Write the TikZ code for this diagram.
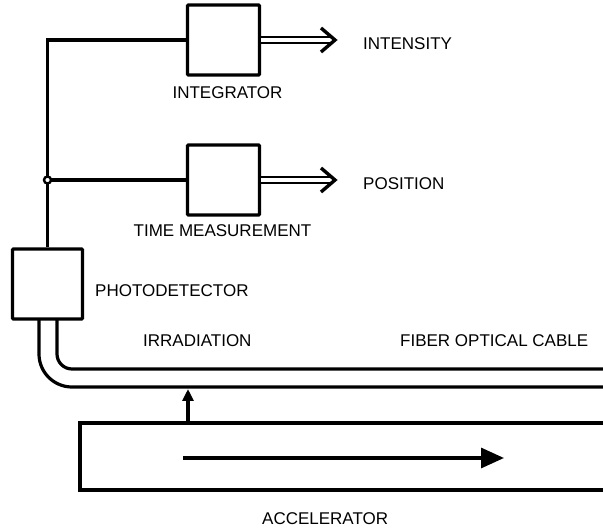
\documentclass[tikz,border=0pt]{standalone}
\usepackage{fontspec}
\setmainfont{Liberation Sans}
\usetikzlibrary{arrows.meta,calc}

\tikzset{
  wire/.style={line width=3.2pt},
  unit/.style={draw, line width=3.2pt, minimum width=72pt, minimum height=70pt,
               inner sep=0pt, rounded corners=1pt},
  label/.style={inner sep=0pt, font=\fontsize{17}{20}\selectfont},
  dblout/.style={draw, line width=2.4pt, double, double distance=3.2pt},
  chevron/.style={line width=3.4pt, line join=miter},
  joint/.style={circle, draw, fill=white, line width=2.4pt, minimum size=7pt, inner sep=0pt},
}

\begin{document}
\begin{tikzpicture}[x=1pt,y=-1pt]
  \useasboundingbox (0,0) rectangle (603,529);

  % signal processing units
  \node[unit] (int) at (223.5,40) {};
  \node[unit] (tm)  at (223.5,180) {};
  \node[unit, minimum width=70pt] (pd) at (47.5,284) {};

  \coordinate (corner) at (47.5,40);
  \coordinate (jn)     at (47.5,180);

  % photodetector output bus
  \draw[wire] (pd.north) -- (jn);
  \draw[wire] (jn) -- (corner) -- (int.west);
  \draw[wire] (jn) -- (tm.west);
  \node[joint] at (jn) {};

  % outputs
  \coordinate (intout) at (333,40);
  \coordinate (tmout)  at (333,180);
  \draw[dblout] (int.east) -- (intout);
  \draw[dblout] (tm.east) -- (tmout);
  \draw[chevron] ($(intout)+(-12,-12)$) -- ($(intout)+(2,0)$) -- ($(intout)+(-12,12)$);
  \draw[chevron] ($(tmout)+(-12,-12)$) -- ($(tmout)+(2,0)$) -- ($(tmout)+(-12,12)$);

  % fiber optical cable
  \coordinate (fo) at (39,319);
  \coordinate (fi) at (57,319);
  \coordinate (foend) at (603,387);
  \coordinate (fiend) at (603,369);
  \draw[wire, rounded corners=33pt] (fo) |- (foend);
  \draw[wire, rounded corners=15pt] (fi) |- (fiend);

  % accelerator
  \coordinate (acctr) at (603,423);
  \coordinate (acctl) at (80,423);
  \coordinate (accbl) at (80,490);
  \coordinate (accbr) at (603,490);
  \draw[wire] (acctr) -- (acctl) -- (accbl) -- (accbr);

  \coordinate (beamA) at (183,458);
  \coordinate (beamB) at (504,458);
  \draw[wire, -{Triangle[length=23pt,width=20pt]}] (beamA) -- (beamB);

  \coordinate (irrA) at (188,423);
  \coordinate (irrB) at (188,389);
  \draw[wire, -{Triangle[length=12pt,width=11pt]}] (irrA) -- (irrB);

  % labels
  \node[label, anchor=base west] at (363,50)  {INTENSITY};
  \node[label, anchor=base west] at (363,190) {POSITION};
  \node[label, anchor=base]      at (227.5,99) {INTEGRATOR};
  \node[label, anchor=base]      at (222.5,237) {TIME MEASUREMENT};
  \node[label, anchor=base west] at (95,297)  {PHOTODETECTOR};
  \node[label, anchor=base west] at (143,347) {IRRADIATION};
  \node[label, anchor=base west] at (400,347) {FIBER OPTICAL CABLE};
  \node[label, anchor=base west] at (262,525) {ACCELERATOR};
\end{tikzpicture}
\end{document}
